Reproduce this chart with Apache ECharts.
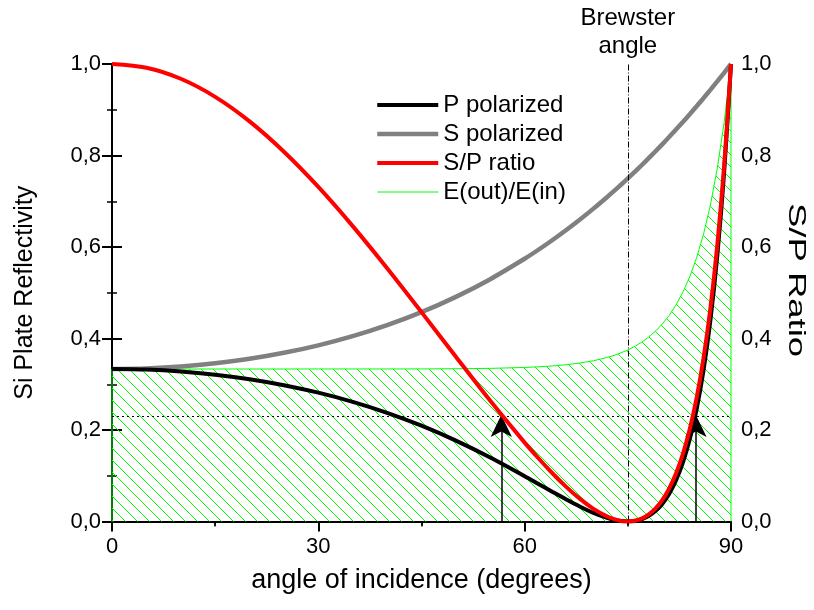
<!DOCTYPE html>
<html>
<head>
<meta charset="utf-8">
<script src="https://cdn.jsdelivr.net/npm/echarts@6/dist/echarts.min.js"></script>
<style>
  html, body { margin: 0; padding: 0; background: #fff; }
  #chart { width: 814px; height: 610px; }
</style>
</head>
<body>
<div id="chart"></div>
<script>
// Angle of incidence (degrees)
const angles = [0, 5, 10, 15, 20, 25, 30, 35, 40, 45, 50, 55, 60, 62, 64, 66, 68, 70, 72, 73, 74, 75,
  76, 77, 78, 79, 80, 81, 82, 83, 84, 85, 86, 87, 88, 89, 90];

// Reflectivity of the Si plate, p-polarized
const pPolarized = [0.3333, 0.3320, 0.3279, 0.3209, 0.3110, 0.2980, 0.2816, 0.2616, 0.2376, 0.2094,
  0.1768, 0.1398, 0.0990, 0.0821, 0.0652, 0.0486, 0.0329, 0.0189, 0.0077, 0.0037, 0.0010, 0.0000,
  0.0011, 0.0049, 0.0118, 0.0227, 0.0385, 0.0604, 0.0899, 0.1288, 0.1796, 0.2453, 0.3302, 0.4394,
  0.5804, 0.7628, 1.0];

// Reflectivity of the Si plate, s-polarized
const sPolarized = [0.3333, 0.3347, 0.3388, 0.3457, 0.3556, 0.3687, 0.3851, 0.4051, 0.4292, 0.4576,
  0.4910, 0.5297, 0.5744, 0.5940, 0.6148, 0.6367, 0.6597, 0.6839, 0.7094, 0.7226, 0.7361, 0.7500,
  0.7642, 0.7787, 0.7936, 0.8088, 0.8244, 0.8403, 0.8566, 0.8732, 0.8902, 0.9076, 0.9253, 0.9434,
  0.9619, 0.9808, 1.0];

// Ratio curve, right axis
const spRatio = [1.0, 0.9918, 0.9677, 0.9282, 0.8746, 0.8083, 0.7313, 0.6457, 0.5537, 0.4577,
  0.3601, 0.2638, 0.1724, 0.1382, 0.1060, 0.0763, 0.0499, 0.0277, 0.0109, 0.0051, 0.0013, 0.0,
  0.0015, 0.0062, 0.0149, 0.0281, 0.0467, 0.0719, 0.1049, 0.1475, 0.2017, 0.2703, 0.3568, 0.4658,
  0.6034, 0.7777, 1.0];

// E(out)/E(in), drawn as a hatched region
const eOutIn = [0.3333, 0.3333, 0.3333, 0.3333, 0.3333, 0.3333, 0.3334, 0.3334, 0.3334, 0.3335,
  0.3339, 0.3347, 0.3367, 0.3381, 0.3400, 0.3426, 0.3463, 0.3514, 0.3586, 0.3631, 0.3686, 0.3750,
  0.3827, 0.3918, 0.4027, 0.4158, 0.4315, 0.4504, 0.4733, 0.5010, 0.5349, 0.5765, 0.6278, 0.6914,
  0.7712, 0.8718, 1.0];

// Annotations
const brewsterAngle = 75;
const ratioLevel = 0.2277;
const arrowAngles = [56.6, 84.9];
const arrowTip = 0.233;

const xTicks = { min: 0, max: 90, interval: 30 };
const yTicks = { min: 0, max: 1, interval: 0.2 };

const FONT = 'Liberation Sans, Arial, sans-serif';

const pairs = (ys) => angles.map((a, i) => [a, ys[i]]);

// Closed outline for the hatched region (drops to zero at both ends)
const eOutline = [[angles[0], 0]].concat(pairs(eOutIn), [[angles[angles.length - 1], 0]]);

// Diagonal green hatch tile
const T = 12;
const hatch = document.createElement('canvas');
hatch.width = T; hatch.height = T;
const hg = hatch.getContext('2d');
hg.strokeStyle = '#00ff00';
hg.lineWidth = 1;
hg.beginPath();
hg.moveTo(-1, -1); hg.lineTo(T + 1, T + 1);
hg.moveTo(-1, T - 1); hg.lineTo(1, T + 1);
hg.moveTo(T - 1, -1); hg.lineTo(T + 1, 1);
hg.stroke();

const commaLabel = (v) => v.toFixed(1).replace('.', ',');

const chart = echarts.init(document.getElementById('chart'), null, { renderer: 'canvas' });

const axisText = { color: '#000', fontFamily: FONT, fontSize: 22 };

chart.setOption({
  animation: false,
  backgroundColor: '#fff',
  textStyle: { fontFamily: FONT },
  grid: { left: 112, top: 64, width: 619, height: 457.5 },
  legend: {
    left: 370,
    top: 88,
    orient: 'vertical',
    itemWidth: 61,
    itemHeight: 10,
    itemGap: 5,
    itemStyle: { opacity: 0 },
    lineStyle: { width: 'inherit' },
    textStyle: { color: '#000', fontFamily: FONT, fontSize: 24 },
    data: ['P polarized', 'S polarized', 'S/P ratio', 'E(out)/E(in)'],
    selectedMode: false
  },
  graphic: [
    {
      type: 'text', x: 796, y: 280, rotation: -Math.PI / 2, scaleX: 1.52, silent: true,
      style: {
        text: 'S/P Ratio', fill: '#000', font: '24px ' + FONT,
        align: 'center', verticalAlign: 'middle'
      }
    }
  ],
  xAxis: [
    {
      type: 'value', position: 'bottom', min: xTicks.min, max: xTicks.max, interval: xTicks.interval,
      name: 'angle of incidence (degrees)', nameLocation: 'middle', nameGap: 46,
      nameTextStyle: { color: '#000', fontFamily: FONT, fontSize: 27 },
      axisLine: { lineStyle: { color: '#000', width: 2 } },
      axisTick: { inside: false, length: 8, lineStyle: { color: '#000', width: 2 } },
      minorTick: { show: true, splitNumber: 2, length: 4, lineStyle: { color: '#000', width: 1.5 } },
      axisLabel: Object.assign({ margin: 14 }, axisText),
      splitLine: { show: false }
    },
    {
      type: 'value', position: 'top', min: xTicks.min, max: xTicks.max, interval: xTicks.interval,
      axisLine: { lineStyle: { color: '#000', width: 2 } },
      axisTick: { inside: true, length: 10, lineStyle: { color: '#000', width: 2 } },
      minorTick: { show: true, splitNumber: 2, length: 5, lineStyle: { color: '#000', width: 1.5 } },
      axisLabel: { show: false },
      splitLine: { show: false }
    }
  ],
  yAxis: [
    {
      type: 'value', position: 'left', min: yTicks.min, max: yTicks.max, interval: yTicks.interval,
      name: 'Si Plate Reflectivity', nameLocation: 'middle', nameGap: 74, nameRotate: 90,
      nameTextStyle: { color: '#000', fontFamily: FONT, fontSize: 25 },
      axisLine: { show: true, lineStyle: { color: '#000', width: 2 } },
      axisTick: { inside: true, length: 10, lineStyle: { color: '#000', width: 2 } },
      minorTick: { show: true, splitNumber: 2, length: 5, lineStyle: { color: '#000', width: 1.5 } },
      axisLabel: Object.assign({ margin: 11, formatter: commaLabel }, axisText),
      splitLine: { show: false }
    },
    {
      type: 'value', position: 'right', min: yTicks.min, max: yTicks.max, interval: yTicks.interval,
      axisLine: { show: true, lineStyle: { color: '#000', width: 2 } },
      axisTick: { inside: true, length: 10, lineStyle: { color: '#000', width: 2 } },
      minorTick: { show: true, splitNumber: 2, length: 5, lineStyle: { color: '#000', width: 1.5 } },
      axisLabel: Object.assign({ margin: 10, formatter: commaLabel }, axisText),
      splitLine: { show: false }
    }
  ],
  series: [
    {
      name: 'E(out)/E(in)', type: 'line', xAxisIndex: 0, yAxisIndex: 0,
      data: eOutline, showSymbol: false, symbol: 'none', silent: true,
      color: '#00ff00',
      lineStyle: { color: '#00ff00', width: 1 },
      areaStyle: { color: { image: hatch, repeat: 'repeat' }, opacity: 1 },
      z: 1,
      markLine: {
        silent: true, symbol: 'none', animation: false,
        data: [
          { yAxis: ratioLevel, lineStyle: { type: [2, 3], color: '#000', width: 1 }, label: { show: false } },
          {
            xAxis: brewsterAngle,
            lineStyle: { type: [6, 2, 1, 2], color: '#000', width: 1 },
            label: {
              show: true, position: 'end', formatter: 'Brewster\nangle', distance: 4,
              color: '#000', fontFamily: FONT, fontSize: 24, lineHeight: 28
            }
          }
        ]
      }
    },
    {
      name: 'S polarized', type: 'line', xAxisIndex: 0, yAxisIndex: 0,
      data: pairs(sPolarized), showSymbol: false, symbol: 'none', smooth: 0.3,
      color: '#808080', lineStyle: { color: '#808080', width: 4.5 }, z: 3
    },
    {
      name: 'P polarized', type: 'line', xAxisIndex: 0, yAxisIndex: 0,
      data: pairs(pPolarized), showSymbol: false, symbol: 'none', smooth: 0.3,
      color: '#000000', lineStyle: { color: '#000000', width: 4 }, z: 4
    },
    {
      name: 'S/P ratio', type: 'line', xAxisIndex: 0, yAxisIndex: 1,
      data: pairs(spRatio), showSymbol: false, symbol: 'none', smooth: 0.3,
      color: '#ff0000', lineStyle: { color: '#ff0000', width: 4 }, z: 5,
      markLine: {
        silent: true, animation: false,
        symbol: ['none', 'arrow'],
        symbolSize: [16, 22],
        lineStyle: { type: 'solid', color: '#000', width: 1.5 },
        label: { show: false },
        data: arrowAngles.map((a) => [{ coord: [a, 0] }, { coord: [a, arrowTip] }])
      }
    }
  ]
});
</script>
</body>
</html>
